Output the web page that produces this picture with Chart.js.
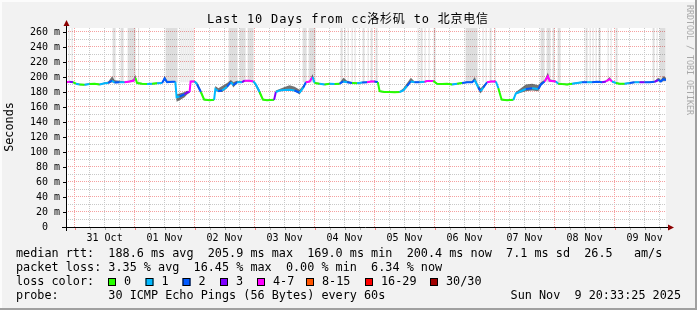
<!DOCTYPE html>
<html lang="en">
<head>
<meta charset="UTF-8">
<title>Last 10 Days from cc洛杉矶 to 北京电信</title>
<script src="https://cdn.jsdelivr.net/npm/chart.js"></script>
<style>
  html, body { margin: 0; padding: 0; background: #f2f2f2; }
  #wrap { width: 697px; height: 310px; }
</style>
</head>
<body>
<div id="wrap"><canvas id="smoke" width="697" height="310"></canvas></div>
<script>
// hours relative to 31 Oct 00:00
const hours = [
  -3.44, -2, -0.6, 0.5, 2, 4, 6, 8, 10, 12,
  13.5, 15, 16, 18, 20, 22, 23.5, 24.3, 25, 27,
  29, 31, 33, 35, 36, 37, 39, 40.3, 40.8, 42,
  44, 45, 46, 46.4, 48, 49, 50.5, 51.8, 54, 55.8,
  56.3, 57.5, 59, 61, 62.5, 63.5, 65, 67, 68, 70,
  71.5, 72.5, 74, 75.3, 77, 79.8, 80.5, 82, 84, 86,
  88, 90, 91.5, 92.5, 94, 95.2, 96, 98, 100, 102,
  104, 106, 107.5, 109, 111, 113, 115, 117, 118.5, 120,
  121.3, 122, 124, 126, 128, 130, 131.5, 133, 134.5, 136,
  138, 140, 141, 143.5, 145, 147, 149, 151, 153, 155,
  157, 159, 160, 161.5, 162.4, 163.5, 165, 166.5, 168.5, 169.5,
  170.8, 173, 175.5, 176.5, 178.5, 180.5, 183, 185.5, 186.5, 188,
  189.3, 190, 192.5, 193.5, 195, 197, 199, 201, 203, 205,
  207, 209, 211, 212.5, 214, 215, 216.5, 218, 220, 222,
  224, 226, 228, 230, 232, 233.5, 234.5, 235.5, 236.56
];
// median rtt in ms
const median = [
  193, 193.5, 193, 191, 190, 189.5, 190.5, 191, 190, 191.5,
  192, 195, 192.5, 193, 193, 194, 195, 199, 192, 191,
  190.5, 191, 191.5, 192, 198, 193, 193.5, 193.5, 173, 174,
  177, 179.5, 180, 194, 194, 190, 180, 170, 169, 169.5,
  184, 181, 182, 187, 193, 189, 193, 193, 195, 195,
  194, 190, 180, 170, 169, 169.5, 180, 182, 182.5, 183,
  182, 179, 186, 193, 194, 200, 192, 191, 190, 191,
  190.5, 191, 194, 193, 192, 191.5, 192.5, 193, 194, 194,
  193, 181, 180, 180, 179.5, 180, 182, 188, 194, 193,
  193, 193.5, 194.5, 194.5, 191, 190.5, 191, 190, 191, 192,
  193, 193, 196, 186, 181, 186, 193, 194, 194, 185,
  170, 169, 169.5, 178, 181, 184, 185, 184, 190, 194,
  201, 195, 194, 191, 190.5, 190, 191, 192, 193, 193,
  193, 193.5, 193, 194, 197, 194, 192, 191, 191, 192,
  193, 193, 193, 193, 193.5, 196, 194, 197, 196
];
// loss colour bucket (index into lossLabels)
const loss = [
  3, 4, 3, 0, 1, 0, 1, 0, 0, 1,
  1, 2, 1, 2, 1, 4, 4, 4, 0, 0,
  0, 1, 0, 1, 2, 2, 2, 2, 1, 1,
  2, 3, 3, 4, 4, 1, 2, 0, 0, 0,
  1, 1, 2, 1, 2, 1, 2, 1, 3, 4,
  4, 1, 1, 0, 0, 0, 3, 1, 1, 1,
  1, 2, 1, 2, 4, 4, 1, 0, 1, 0,
  1, 0, 2, 1, 2, 0, 1, 2, 4, 4,
  2, 0, 0, 0, 0, 0, 1, 1, 2, 1,
  2, 1, 4, 4, 0, 0, 0, 0, 1, 0,
  2, 2, 2, 1, 2, 1, 2, 4, 4, 1,
  0, 0, 0, 1, 1, 1, 2, 1, 2, 2,
  4, 4, 4, 1, 0, 0, 0, 1, 1, 2,
  1, 2, 2, 3, 4, 4, 1, 0, 0, 1,
  2, 1, 3, 2, 2, 3, 2, 2, 2
];
// smoke spread above / below the median, ms
const smokeUp = [
  1, 1, 1, 1, 1, 1, 1, 1, 1, 1,
  2, 6, 3, 2, 1, 1, 2, 4, 1, 1,
  1, 1, 1, 1, 4, 2, 1, 1, 4, 4,
  3, 2, 1, 1, 1, 3, 3, 1, 1, 1,
  4, 4, 6, 5, 3, 4, 2, 1, 1, 1,
  1, 2, 3, 1, 1, 1, 2, 2, 4, 6,
  5, 4, 3, 1, 1, 4, 1, 1, 1, 1,
  1, 1, 5, 2, 1, 1, 1, 1, 1, 1,
  1, 1, 1, 1, 1, 1, 3, 4, 5, 1,
  1, 1, 1, 1, 1, 1, 1, 1, 1, 1,
  1, 1, 4, 3, 4, 3, 1, 1, 1, 2,
  1, 1, 1, 2, 4, 6, 6, 5, 3, 2,
  5, 2, 1, 1, 1, 1, 1, 1, 1, 1,
  1, 1, 1, 1, 3, 1, 1, 1, 1, 1,
  1, 1, 1, 1, 1, 3, 2, 4, 3
];
const smokeDown = [
  1, 1, 1, 1, 1, 1, 1, 1, 1, 1,
  1, 2, 1, 1, 1, 1, 1, 2, 1, 1,
  1, 1, 1, 1, 2, 1, 1, 1, 6, 5,
  4, 3, 1, 1, 1, 2, 2, 1, 1, 1,
  1, 1, 2, 2, 1, 3, 1, 1, 1, 1,
  1, 3, 3, 1, 1, 1, 1, 1, 1, 1,
  1, 2, 2, 1, 1, 2, 1, 1, 1, 1,
  1, 1, 1, 1, 1, 1, 1, 1, 1, 1,
  1, 1, 1, 1, 1, 1, 1, 2, 1, 1,
  1, 1, 1, 1, 1, 1, 1, 1, 1, 1,
  1, 1, 1, 3, 3, 2, 1, 1, 1, 2,
  1, 1, 1, 1, 2, 3, 3, 3, 2, 1,
  3, 1, 1, 1, 1, 1, 1, 1, 1, 1,
  1, 1, 1, 1, 1, 1, 1, 1, 1, 1,
  1, 1, 1, 1, 1, 1, 1, 2, 1
];
// periods where the slow pings run off the top, [from, to] hours
const greyBands = [
  [-2.4, -2.0], [-1.2, -0.8], [15.2, 16.4], [18.4, 19.6], [21.2, 24.4], [25.4, 25.8],
  [36.4, 41.2], [42.4, 42.8], [43.2, 43.6], [44.0, 44.4], [44.8, 45.2], [45.6, 46.0],
  [46.4, 46.8], [47.2, 47.6], [61.6, 65.2], [66, 68.4], [69.2, 71.6], [91.2, 92.8],
  [93.6, 96.4], [106.4, 107.2], [108, 108.4], [109.2, 109.6], [110.8, 111.2], [112, 112.4],
  [115.2, 116], [117.2, 117.6], [118.4, 119.2], [120.4, 121.2], [137.2, 137.6], [138.4, 139.2],
  [140, 140.4], [141.6, 142], [143.6, 144.4], [156.4, 161.2], [163.2, 163.6], [164.4, 164.8],
  [166, 166.8], [168, 168.4], [186.4, 188], [188.8, 190.4], [191.2, 192], [193.2, 194.4],
  [204.4, 205.2], [206, 206.4], [207.2, 207.6], [208.4, 208.8], [209.6, 210.4], [213.2, 213.6],
  [214.4, 214.8], [216.4, 217.2], [231.2, 232], [232.8, 233.2], [234, 236.4]
];
const dayLabels = ['31 Oct', '01 Nov', '02 Nov', '03 Nov', '04 Nov', '05 Nov', '06 Nov', '07 Nov', '08 Nov', '09 Nov'];
const lossLabels = ['0', '1', '2', '3', '4-7', '8-15', '16-29', '30/30'];
const lossColors = ['#26ff00', '#00b8ff', '#0059ff', '#7e00ff', '#ff00ff', '#ff5500', '#ff0000', '#a00000'];

const titleText = 'Last 10 Days from cc洛杉矶 to 北京电信';
const rttLine = 'median rtt:  188.6 ms avg  205.9 ms max  169.0 ms min  200.4 ms now  7.1 ms sd  26.5   am/s';
const lossLine = 'packet loss: 3.35 % avg  16.45 % max  0.00 % min  6.34 % now';
const probeLine = 'probe:       30 ICMP Echo Pings (56 Bytes) every 60s';
const stampText = 'Sun Nov  9 20:33:25 2025';

const tStart = -3.44, tEnd = 236.56, yTop = 265.3, bandFloor = 193;
const MONO = '"DejaVu Sans Mono", "Noto Sans CJK SC", monospace';

const medianPts = hours.map((h, i) => ({ x: h, y: median[i] }));
const hiPts = hours.map((h, i) => ({ x: h, y: median[i] + smokeUp[i] }));
const loPts = hours.map((h, i) => ({ x: h, y: median[i] - smokeDown[i] }));
// stepped outline: up at band start, back down at band end
const bandPts = [{ x: tStart, y: bandFloor }];
greyBands.forEach(([a, b]) => {
  bandPts.push({ x: a, y: bandFloor }, { x: b, y: yTop });
});
bandPts.push({ x: tEnd, y: bandFloor });

const xTicks = [];
for (let h = 0; h <= tEnd; h += 6) xTicks.push(h);
const yTicks = [];
for (let v = 0; v <= 260; v += 10) yTicks.push(v);

const decor = {
  id: 'decor',
  beforeDraw(chart) {
    const { ctx, chartArea: a } = chart;
    ctx.save();
    ctx.fillStyle = '#f2f2f2';
    ctx.fillRect(0, 0, 697, 310);
    ctx.fillStyle = '#fcfcfc';
    ctx.fillRect(0, 0, 697, 2);
    ctx.fillRect(0, 0, 2, 310);
    ctx.fillStyle = '#a0a0a0';
    ctx.fillRect(0, 308, 697, 2);
    ctx.fillRect(695, 0, 2, 310);
    ctx.fillStyle = '#ffffff';
    ctx.fillRect(a.left, a.top, a.right - a.left, a.bottom - a.top);
    ctx.restore();
  },
  afterDraw(chart) {
    const { ctx, chartArea: a, scales } = chart;
    ctx.save();
    // tick marks
    ctx.strokeStyle = '#000';
    ctx.lineWidth = 1;
    yTicks.filter(v => v % 20 === 0).forEach(v => {
      const y = Math.round(scales.y.getPixelForValue(v)) + 0.5;
      ctx.beginPath(); ctx.moveTo(a.left - 3, y); ctx.lineTo(a.left, y); ctx.stroke();
    });
    xTicks.forEach(h => {
      const x = Math.round(scales.x.getPixelForValue(h)) + 0.5;
      ctx.strokeStyle = h % 24 === 0 ? '#f08080' : '#b0b0b0';
      ctx.beginPath(); ctx.moveTo(x, a.bottom); ctx.lineTo(x, a.bottom + 3); ctx.stroke();
    });
    // axes
    ctx.strokeStyle = '#000';
    ctx.beginPath();
    ctx.moveTo(a.left + 0.5, a.bottom + 4); ctx.lineTo(a.left + 0.5, a.top - 3);
    ctx.moveTo(a.left - 4, a.bottom + 0.5); ctx.lineTo(a.right + 3, a.bottom + 0.5);
    ctx.stroke();
    ctx.fillStyle = '#8b0000';
    ctx.beginPath();
    ctx.moveTo(a.left - 2.5, a.top - 2); ctx.lineTo(a.left + 3.5, a.top - 2); ctx.lineTo(a.left + 0.5, a.top - 8);
    ctx.closePath(); ctx.fill();
    ctx.beginPath();
    ctx.moveTo(a.right + 2, a.bottom - 2.5); ctx.lineTo(a.right + 2, a.bottom + 3.5); ctx.lineTo(a.right + 8, a.bottom + 0.5);
    ctx.closePath(); ctx.fill();

    // title, stretched to the width it has in the original
    ctx.fillStyle = '#000';
    ctx.font = '12px ' + MONO;
    ctx.textAlign = 'left';
    ctx.textBaseline = 'middle';
    const tw = ctx.measureText(titleText).width;
    const n = Array.from(titleText).length;
    ctx.letterSpacing = Math.max(0, (281 - tw) / (n - 1)).toFixed(2) + 'px';
    ctx.fillText(titleText, 207, 20);
    ctx.letterSpacing = '0px';

    // y axis unit
    ctx.save();
    ctx.textAlign = 'center';
    ctx.font = '11.8px ' + MONO;
    ctx.translate(10, 127);
    ctx.rotate(-Math.PI / 2);
    ctx.fillText('Seconds', 0, 0);
    ctx.restore();

    // watermark
    ctx.save();
    ctx.font = '8.3px ' + MONO;
    ctx.fillStyle = '#a8a8a8';
    ctx.textAlign = 'left';
    ctx.translate(689, 5);
    ctx.rotate(Math.PI / 2);
    ctx.fillText('RRDTOOL / TOBI OETIKER', 0, 0);
    ctx.restore();

    // legend
    ctx.font = '11.8px ' + MONO;
    ctx.textAlign = 'left';
    ctx.fillText(rttLine, 16, 254);
    ctx.fillText(lossLine, 16, 268);
    ctx.fillText('loss color:', 16, 282);
    ctx.fillText(probeLine, 16, 296);
    ctx.textAlign = 'right';
    ctx.fillText(stampText, 681, 296);
    ctx.textAlign = 'left';
    const boxX = [108, 145.5, 182.5, 220, 257, 306, 365, 430];
    lossLabels.forEach((lab, i) => {
      const x = boxX[i];
      ctx.fillStyle = lossColors[i];
      ctx.fillRect(x, 278, 8, 8);
      ctx.strokeStyle = '#000';
      ctx.strokeRect(x + 0.5, 278.5, 7, 7);
      ctx.fillStyle = '#000';
      ctx.fillText(lab, x + 16, 282);
    });
    ctx.restore();
  }
};

new Chart(document.getElementById('smoke'), {
  type: 'line',
  data: {
    datasets: [
      {
        label: 'median rtt',
        data: medianPts,
        order: 0,
        borderWidth: 2,
        borderColor: lossColors[0],
        segment: { borderColor: c => lossColors[loss[c.p1DataIndex]] },
        pointRadius: 0,
        fill: false,
        tension: 0
      },
      {
        label: 'smoke high',
        data: hiPts,
        order: 1,
        borderWidth: 0,
        borderColor: 'rgba(0,0,0,0)',
        backgroundColor: 'rgba(40,40,40,0.65)',
        pointRadius: 0,
        fill: '+1'
      },
      {
        label: 'smoke low',
        data: loPts,
        order: 1,
        borderWidth: 0,
        borderColor: 'rgba(0,0,0,0)',
        pointRadius: 0,
        fill: false
      },
      {
        label: 'slow pings',
        data: bandPts,
        order: 2,
        stepped: 'after',
        borderWidth: 0,
        borderColor: 'rgba(0,0,0,0)',
        backgroundColor: 'rgba(0,0,0,0.13)',
        pointRadius: 0,
        fill: { value: bandFloor }
      }
    ]
  },
  options: {
    responsive: false,
    animation: false,
    devicePixelRatio: 1,
    layout: { padding: { left: 0, right: 31, top: 28, bottom: 0 } },
    plugins: {
      legend: { display: false },
      tooltip: { enabled: false },
      title: { display: false }
    },
    scales: {
      x: {
        type: 'linear',
        min: tStart,
        max: tEnd,
        afterBuildTicks: s => { s.ticks = xTicks.map(v => ({ value: v })); },
        afterFit: s => { s.height = 83; },
        border: { display: false, dash: [1, 1] },
        grid: {
          drawTicks: false,
          lineWidth: 1,
          color: c => (c.tick && c.tick.value % 24 === 0) ? '#f5a0a0' : '#c8c8c8'
        },
        ticks: {
          autoSkip: false,
          maxRotation: 0,
          minRotation: 0,
          padding: 5,
          color: '#000',
          font: { family: MONO, size: 10 },
          callback: v => (v % 24 === 12) ? dayLabels[(v - 12) / 24] : ''
        }
      },
      y: {
        min: 0,
        max: yTop,
        afterBuildTicks: s => { s.ticks = yTicks.map(v => ({ value: v })); },
        afterFit: s => { s.width = 66; },
        border: { display: false, dash: [1, 1] },
        grid: {
          drawTicks: false,
          lineWidth: 1,
          color: c => (c.tick && c.tick.value % 20 === 0) ? '#f5a0a0' : '#c8c8c8'
        },
        ticks: {
          autoSkip: false,
          padding: 6,
          color: '#000',
          font: { family: MONO, size: 10 },
          callback: v => v % 20 === 0 ? (v === 0 ? '0  ' : v + ' m') : ''
        }
      }
    }
  },
  plugins: [decor]
});
</script>
</body>
</html>
